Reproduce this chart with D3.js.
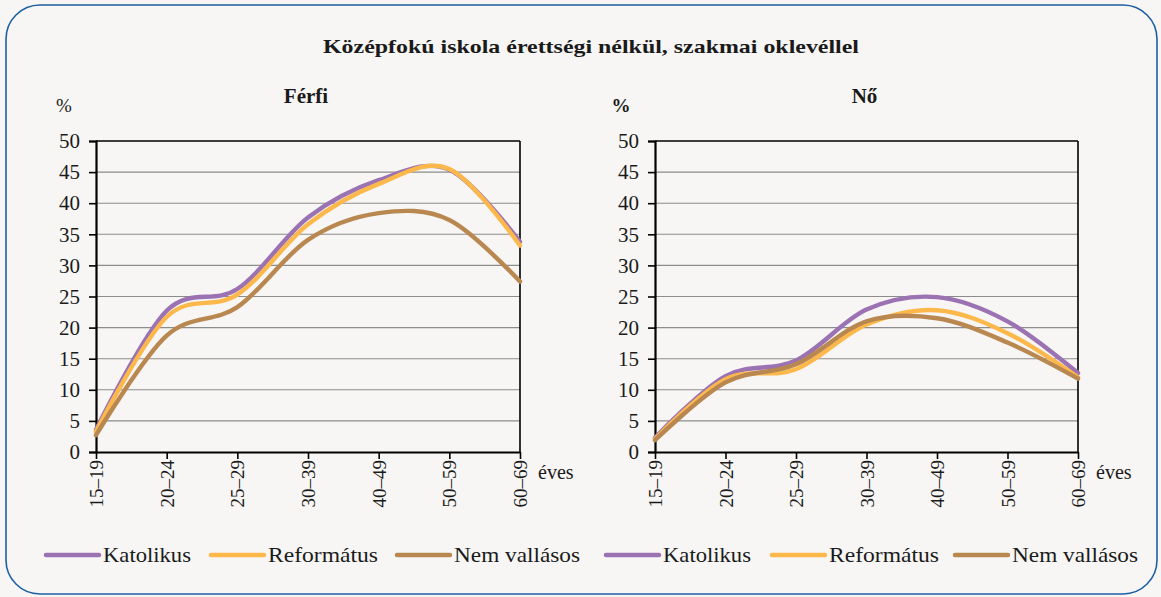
<!DOCTYPE html>
<html>
<head>
<meta charset="utf-8">
<script src="https://cdn.jsdelivr.net/npm/d3@7"></script>
<style>
  html, body { margin: 0; padding: 0; background: #ffffff; }
  svg { display: block; }
</style>
</head>
<body>
<svg id="chart" width="1161" height="597"></svg>
<script>
// ---- data ----
const categories = ["15\u201319", "20\u201324", "25\u201329", "30\u201339", "40\u201349", "50\u201359", "60\u201369"];
const seriesNames = ["Katolikus", "Református", "Nem vallásos"];
const ferfiKatolikus = [3.6, 22.7, 26.2, 37.7, 43.7, 45.4, 33.8];
const ferfiReformatus = [3.3, 21.7, 25.3, 36.6, 43.1, 45.5, 33.2];
const ferfiNemVallasos = [2.7, 18.7, 23.3, 34.1, 38.4, 37.3, 27.4];
const noKatolikus = [2.3, 12.2, 14.7, 22.9, 24.9, 21.0, 12.7];
const noReformatus = [2.1, 11.7, 13.3, 20.5, 22.8, 19.1, 12.0];
const noNemVallasos = [1.9, 11.2, 14.1, 21.0, 21.5, 17.6, 11.8];
const yTicks = [0, 5, 10, 15, 20, 25, 30, 35, 40, 45, 50];
const mainTitle = "Középfokú iskola érettségi nélkül, szakmai oklevéllel";
const panelTitles = ["Férfi", "Nő"];
const colors = ["#9b72b2", "#fdb84c", "#b98850"];

const FONT = "'Liberation Serif', 'Times New Roman', serif";
const svg = d3.select("#chart");

// background + rounded frame
svg.append("rect").attr("x", 0).attr("y", 0).attr("width", 1161).attr("height", 597).attr("fill", "#f7f6f4");
svg.append("rect")
  .attr("x", 6).attr("y", 5).attr("width", 1151).attr("height", 589)
  .attr("rx", 34).attr("ry", 34)
  .attr("fill", "#f7f6f4").attr("stroke", "#1d5fa3").attr("stroke-width", 1.6);

function txt(sel) { return sel.style("font-family", FONT).style("fill", "#1a1a1a"); }

txt(svg.append("text")).attr("x", 591).attr("y", 53).attr("text-anchor", "middle")
  .style("font-weight", "bold").style("font-size", "19px")
  .attr("textLength", 536).attr("lengthAdjust", "spacingAndGlyphs")
  .text(mainTitle);

const panels = [
  { x0: 96, x1: 520, title: panelTitles[0], data: [ferfiKatolikus, ferfiReformatus, ferfiNemVallasos], pctBold: false, pctX: 64, legendX: [46, 211, 397] },
  { x0: 655, x1: 1078, title: panelTitles[1], data: [noKatolikus, noReformatus, noNemVallasos], pctBold: true, pctX: 621, legendX: [606, 772, 955] }
];
const yTop = 141, yBot = 452;
const y = d3.scaleLinear().domain([0, 50]).range([yBot, yTop]);

panels.forEach(p => {
  const g = svg.append("g");
  const x = d3.scalePoint().domain(categories).range([p.x0, p.x1]).padding(0);

  // panel title
  txt(g.append("text")).attr("x", (p.x0 + p.x1) / 2 - 2).attr("y", 103).attr("text-anchor", "middle")
    .style("font-weight", "bold").style("font-size", "21px").text(p.title);
  // % label
  txt(g.append("text")).attr("x", p.pctX).attr("y", 112).attr("text-anchor", "middle")
    .style("font-weight", p.pctBold ? "bold" : "normal").style("font-size", "19px").text("%");

  // gridlines
  g.append("g").selectAll("line").data(yTicks.filter(t => t > 0 && t < 50)).join("line")
    .attr("x1", p.x0).attr("x2", p.x1).attr("y1", d => y(d)).attr("y2", d => y(d))
    .attr("stroke", "#8c8c8c").attr("stroke-width", 1.1);
  // top & right border
  g.append("line").attr("x1", p.x0).attr("x2", p.x1).attr("y1", yTop).attr("y2", yTop).attr("stroke", "#000").attr("stroke-width", 1.6);
  g.append("line").attr("x1", p.x1).attr("x2", p.x1).attr("y1", yTop).attr("y2", yBot).attr("stroke", "#000").attr("stroke-width", 1.6);

  // y axis
  const yAxis = g.append("g").attr("transform", `translate(${p.x0},0)`)
    .call(d3.axisLeft(y).tickValues(yTicks).tickSize(7).tickPadding(9).tickFormat(d3.format("d")));
  yAxis.attr("font-family", null).attr("font-size", null);
  yAxis.select(".domain").attr("stroke", "#000").attr("stroke-width", 2.2);
  yAxis.selectAll(".tick line").attr("stroke", "#000").attr("stroke-width", 1.6);
  txt(yAxis.selectAll(".tick text")).style("font-size", "21px");

  // x axis
  const xAxis = g.append("g").attr("transform", `translate(0,${yBot})`)
    .call(d3.axisBottom(x).tickSize(7).tickSizeOuter(0));
  xAxis.attr("font-family", null).attr("font-size", null);
  xAxis.select(".domain").attr("stroke", "#000").attr("stroke-width", 2.2);
  xAxis.selectAll(".tick line").attr("stroke", "#000").attr("stroke-width", 1.6);
  txt(xAxis.selectAll(".tick text")).style("font-size", "19px")
    .attr("text-anchor", "end").attr("transform", "rotate(-90)")
    .attr("x", -8).attr("y", 0).attr("dy", "0.35em");

  txt(g.append("text")).attr("x", p.x1 + 18).attr("y", 479).style("font-size", "20px").text("éves");

  // lines
  const line = d3.line().x((d, i) => x(categories[i])).y(d => y(d)).curve(d3.curveCardinal.tension(0));
  [0, 1, 2].forEach(si => {
    g.append("path").datum(p.data[si]).attr("d", line)
      .attr("fill", "none").attr("stroke", colors[si]).attr("stroke-width", 4.4)
      .attr("stroke-linejoin", "round").attr("stroke-linecap", "round");
  });

  // legend
  const lengths = [88, 110, 126];
  seriesNames.forEach((name, si) => {
    const lx = p.legendX[si];
    g.append("line").attr("x1", lx).attr("x2", lx + 53).attr("y1", 555).attr("y2", 555)
      .attr("stroke", colors[si]).attr("stroke-width", 4.5).attr("stroke-linecap", "round");
    txt(g.append("text")).attr("x", lx + 57).attr("y", 562).style("font-size", "21px")
      .attr("textLength", lengths[si]).attr("lengthAdjust", "spacingAndGlyphs").text(name);
  });
});
</script>
</body>
</html>
